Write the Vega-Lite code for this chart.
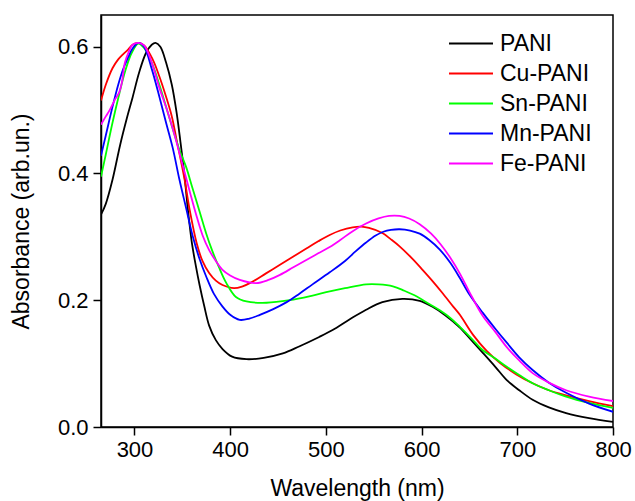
{
  "$schema": "https://vega.github.io/schema/vega-lite/v6.json",
  "width": 512,
  "height": 412,
  "autosize": {"type": "none"},
  "padding": {"left": 101, "top": 15, "right": 22, "bottom": 74},
  "background": "white",
  "config": {
    "font": "Liberation Sans",
    "view": {"stroke": "black", "strokeWidth": 1.5},
    "axis": {
      "grid": false,
      "domainColor": "black",
      "domainWidth": 1.5,
      "tickColor": "black",
      "tickWidth": 1.5,
      "tickSize": 8,
      "labelColor": "black",
      "labelFontSize": 22,
      "labelFont": "Liberation Sans",
      "titleFont": "Liberation Sans",
      "titleFontSize": 23,
      "titleFontWeight": "normal",
      "titleColor": "black"
    }
  },
  "data": {
    "values": [
      {"s":"PANI","x":265,"y":0.335},{"s":"PANI","x":270,"y":0.352},{"s":"PANI","x":277,"y":0.39},{"s":"PANI","x":285,"y":0.445},{"s":"PANI","x":292,"y":0.487},{"s":"PANI","x":298,"y":0.52},{"s":"PANI","x":305,"y":0.56},{"s":"PANI","x":312,"y":0.59},{"s":"PANI","x":318,"y":0.603},{"s":"PANI","x":322,"y":0.606},{"s":"PANI","x":327,"y":0.6},{"s":"PANI","x":333,"y":0.575},{"s":"PANI","x":339,"y":0.54},{"s":"PANI","x":344,"y":0.496},{"s":"PANI","x":348,"y":0.45},{"s":"PANI","x":352,"y":0.4},{"s":"PANI","x":356,"y":0.34},{"s":"PANI","x":360,"y":0.29},{"s":"PANI","x":364,"y":0.255},{"s":"PANI","x":368,"y":0.224},{"s":"PANI","x":373,"y":0.19},{"s":"PANI","x":378,"y":0.16},{"s":"PANI","x":385,"y":0.137},{"s":"PANI","x":392,"y":0.123},{"s":"PANI","x":402,"y":0.111},{"s":"PANI","x":417,"y":0.107},{"s":"PANI","x":435,"y":0.109},{"s":"PANI","x":455,"y":0.116},{"s":"PANI","x":472,"y":0.127},{"s":"PANI","x":493,"y":0.142},{"s":"PANI","x":507,"y":0.153},{"s":"PANI","x":525,"y":0.17},{"s":"PANI","x":542,"y":0.185},{"s":"PANI","x":559,"y":0.197},{"s":"PANI","x":580,"y":0.202},{"s":"PANI","x":598,"y":0.199},{"s":"PANI","x":611,"y":0.19},{"s":"PANI","x":625,"y":0.176},{"s":"PANI","x":640,"y":0.157},{"s":"PANI","x":652,"y":0.137},{"s":"PANI","x":664,"y":0.117},{"s":"PANI","x":677,"y":0.095},{"s":"PANI","x":689,"y":0.074},{"s":"PANI","x":702,"y":0.058},{"s":"PANI","x":716,"y":0.043},{"s":"PANI","x":733,"y":0.031},{"s":"PANI","x":751,"y":0.022},{"s":"PANI","x":775,"y":0.014},{"s":"PANI","x":800,"y":0.008},

      {"s":"Cu-PANI","x":265,"y":0.515},{"s":"Cu-PANI","x":270,"y":0.54},{"s":"Cu-PANI","x":277,"y":0.566},{"s":"Cu-PANI","x":283,"y":0.58},{"s":"Cu-PANI","x":288,"y":0.588},{"s":"Cu-PANI","x":293,"y":0.595},{"s":"Cu-PANI","x":298,"y":0.603},{"s":"Cu-PANI","x":304,"y":0.606},{"s":"Cu-PANI","x":310,"y":0.602},{"s":"Cu-PANI","x":319,"y":0.58},{"s":"Cu-PANI","x":326,"y":0.553},{"s":"Cu-PANI","x":333,"y":0.521},{"s":"Cu-PANI","x":339,"y":0.49},{"s":"Cu-PANI","x":344,"y":0.453},{"s":"Cu-PANI","x":352,"y":0.393},{"s":"Cu-PANI","x":358,"y":0.34},{"s":"Cu-PANI","x":365,"y":0.29},{"s":"Cu-PANI","x":371,"y":0.262},{"s":"Cu-PANI","x":378,"y":0.243},{"s":"Cu-PANI","x":385,"y":0.231},{"s":"Cu-PANI","x":392,"y":0.224},{"s":"Cu-PANI","x":404,"y":0.219},{"s":"Cu-PANI","x":413,"y":0.222},{"s":"Cu-PANI","x":423,"y":0.229},{"s":"Cu-PANI","x":437,"y":0.242},{"s":"Cu-PANI","x":452,"y":0.256},{"s":"Cu-PANI","x":466,"y":0.269},{"s":"Cu-PANI","x":480,"y":0.282},{"s":"Cu-PANI","x":492,"y":0.293},{"s":"Cu-PANI","x":504,"y":0.303},{"s":"Cu-PANI","x":515,"y":0.31},{"s":"Cu-PANI","x":528,"y":0.315},{"s":"Cu-PANI","x":537,"y":0.316},{"s":"Cu-PANI","x":545,"y":0.314},{"s":"Cu-PANI","x":559,"y":0.306},{"s":"Cu-PANI","x":568,"y":0.296},{"s":"Cu-PANI","x":577,"y":0.285},{"s":"Cu-PANI","x":590,"y":0.266},{"s":"Cu-PANI","x":601,"y":0.248},{"s":"Cu-PANI","x":611,"y":0.231},{"s":"Cu-PANI","x":622,"y":0.211},{"s":"Cu-PANI","x":633,"y":0.19},{"s":"Cu-PANI","x":640,"y":0.177},{"s":"Cu-PANI","x":654,"y":0.145},{"s":"Cu-PANI","x":668,"y":0.12},{"s":"Cu-PANI","x":682,"y":0.101},{"s":"Cu-PANI","x":699,"y":0.083},{"s":"Cu-PANI","x":716,"y":0.069},{"s":"Cu-PANI","x":733,"y":0.058},{"s":"Cu-PANI","x":751,"y":0.05},{"s":"Cu-PANI","x":775,"y":0.041},{"s":"Cu-PANI","x":800,"y":0.033},

      {"s":"Sn-PANI","x":265,"y":0.395},{"s":"Sn-PANI","x":270,"y":0.43},{"s":"Sn-PANI","x":277,"y":0.48},{"s":"Sn-PANI","x":284,"y":0.525},{"s":"Sn-PANI","x":290,"y":0.56},{"s":"Sn-PANI","x":297,"y":0.59},{"s":"Sn-PANI","x":304,"y":0.605},{"s":"Sn-PANI","x":310,"y":0.598},{"s":"Sn-PANI","x":318,"y":0.575},{"s":"Sn-PANI","x":326,"y":0.54},{"s":"Sn-PANI","x":334,"y":0.5},{"s":"Sn-PANI","x":340,"y":0.47},{"s":"Sn-PANI","x":347,"y":0.437},{"s":"Sn-PANI","x":354,"y":0.41},{"s":"Sn-PANI","x":360,"y":0.38},{"s":"Sn-PANI","x":368,"y":0.34},{"s":"Sn-PANI","x":375,"y":0.305},{"s":"Sn-PANI","x":381,"y":0.279},{"s":"Sn-PANI","x":388,"y":0.253},{"s":"Sn-PANI","x":396,"y":0.227},{"s":"Sn-PANI","x":406,"y":0.205},{"s":"Sn-PANI","x":417,"y":0.198},{"s":"Sn-PANI","x":438,"y":0.196},{"s":"Sn-PANI","x":462,"y":0.2},{"s":"Sn-PANI","x":485,"y":0.207},{"s":"Sn-PANI","x":504,"y":0.214},{"s":"Sn-PANI","x":520,"y":0.219},{"s":"Sn-PANI","x":542,"y":0.225},{"s":"Sn-PANI","x":555,"y":0.225},{"s":"Sn-PANI","x":570,"y":0.222},{"s":"Sn-PANI","x":582,"y":0.215},{"s":"Sn-PANI","x":595,"y":0.206},{"s":"Sn-PANI","x":608,"y":0.194},{"s":"Sn-PANI","x":619,"y":0.184},{"s":"Sn-PANI","x":630,"y":0.172},{"s":"Sn-PANI","x":640,"y":0.158},{"s":"Sn-PANI","x":652,"y":0.14},{"s":"Sn-PANI","x":664,"y":0.121},{"s":"Sn-PANI","x":677,"y":0.108},{"s":"Sn-PANI","x":689,"y":0.095},{"s":"Sn-PANI","x":702,"y":0.082},{"s":"Sn-PANI","x":716,"y":0.069},{"s":"Sn-PANI","x":733,"y":0.058},{"s":"Sn-PANI","x":751,"y":0.048},{"s":"Sn-PANI","x":775,"y":0.038},{"s":"Sn-PANI","x":800,"y":0.03},

      {"s":"Mn-PANI","x":265,"y":0.428},{"s":"Mn-PANI","x":270,"y":0.46},{"s":"Mn-PANI","x":277,"y":0.505},{"s":"Mn-PANI","x":283,"y":0.54},{"s":"Mn-PANI","x":288,"y":0.564},{"s":"Mn-PANI","x":293,"y":0.582},{"s":"Mn-PANI","x":298,"y":0.597},{"s":"Mn-PANI","x":304,"y":0.606},{"s":"Mn-PANI","x":310,"y":0.6},{"s":"Mn-PANI","x":318,"y":0.565},{"s":"Mn-PANI","x":326,"y":0.521},{"s":"Mn-PANI","x":333,"y":0.48},{"s":"Mn-PANI","x":340,"y":0.44},{"s":"Mn-PANI","x":347,"y":0.39},{"s":"Mn-PANI","x":354,"y":0.345},{"s":"Mn-PANI","x":361,"y":0.3},{"s":"Mn-PANI","x":368,"y":0.265},{"s":"Mn-PANI","x":375,"y":0.237},{"s":"Mn-PANI","x":383,"y":0.21},{"s":"Mn-PANI","x":392,"y":0.19},{"s":"Mn-PANI","x":400,"y":0.177},{"s":"Mn-PANI","x":410,"y":0.169},{"s":"Mn-PANI","x":420,"y":0.171},{"s":"Mn-PANI","x":431,"y":0.177},{"s":"Mn-PANI","x":445,"y":0.186},{"s":"Mn-PANI","x":459,"y":0.197},{"s":"Mn-PANI","x":472,"y":0.21},{"s":"Mn-PANI","x":486,"y":0.225},{"s":"Mn-PANI","x":504,"y":0.244},{"s":"Mn-PANI","x":520,"y":0.262},{"s":"Mn-PANI","x":531,"y":0.277},{"s":"Mn-PANI","x":542,"y":0.291},{"s":"Mn-PANI","x":552,"y":0.302},{"s":"Mn-PANI","x":560,"y":0.308},{"s":"Mn-PANI","x":568,"y":0.311},{"s":"Mn-PANI","x":577,"y":0.312},{"s":"Mn-PANI","x":588,"y":0.31},{"s":"Mn-PANI","x":598,"y":0.305},{"s":"Mn-PANI","x":608,"y":0.295},{"s":"Mn-PANI","x":619,"y":0.28},{"s":"Mn-PANI","x":630,"y":0.259},{"s":"Mn-PANI","x":640,"y":0.235},{"s":"Mn-PANI","x":650,"y":0.209},{"s":"Mn-PANI","x":664,"y":0.18},{"s":"Mn-PANI","x":677,"y":0.155},{"s":"Mn-PANI","x":689,"y":0.133},{"s":"Mn-PANI","x":702,"y":0.11},{"s":"Mn-PANI","x":716,"y":0.09},{"s":"Mn-PANI","x":733,"y":0.07},{"s":"Mn-PANI","x":751,"y":0.054},{"s":"Mn-PANI","x":775,"y":0.037},{"s":"Mn-PANI","x":800,"y":0.024},

      {"s":"Fe-PANI","x":265,"y":0.477},{"s":"Fe-PANI","x":270,"y":0.49},{"s":"Fe-PANI","x":274,"y":0.5},{"s":"Fe-PANI","x":279,"y":0.515},{"s":"Fe-PANI","x":284,"y":0.528},{"s":"Fe-PANI","x":287,"y":0.545},{"s":"Fe-PANI","x":290,"y":0.575},{"s":"Fe-PANI","x":294,"y":0.592},{"s":"Fe-PANI","x":298,"y":0.603},{"s":"Fe-PANI","x":304,"y":0.606},{"s":"Fe-PANI","x":310,"y":0.602},{"s":"Fe-PANI","x":318,"y":0.575},{"s":"Fe-PANI","x":326,"y":0.535},{"s":"Fe-PANI","x":334,"y":0.5},{"s":"Fe-PANI","x":342,"y":0.46},{"s":"Fe-PANI","x":350,"y":0.415},{"s":"Fe-PANI","x":358,"y":0.37},{"s":"Fe-PANI","x":365,"y":0.332},{"s":"Fe-PANI","x":371,"y":0.303},{"s":"Fe-PANI","x":378,"y":0.279},{"s":"Fe-PANI","x":385,"y":0.262},{"s":"Fe-PANI","x":392,"y":0.248},{"s":"Fe-PANI","x":400,"y":0.239},{"s":"Fe-PANI","x":410,"y":0.232},{"s":"Fe-PANI","x":427,"y":0.227},{"s":"Fe-PANI","x":440,"y":0.232},{"s":"Fe-PANI","x":452,"y":0.24},{"s":"Fe-PANI","x":466,"y":0.252},{"s":"Fe-PANI","x":480,"y":0.264},{"s":"Fe-PANI","x":492,"y":0.274},{"s":"Fe-PANI","x":504,"y":0.284},{"s":"Fe-PANI","x":515,"y":0.295},{"s":"Fe-PANI","x":528,"y":0.309},{"s":"Fe-PANI","x":542,"y":0.321},{"s":"Fe-PANI","x":555,"y":0.329},{"s":"Fe-PANI","x":566,"y":0.333},{"s":"Fe-PANI","x":577,"y":0.333},{"s":"Fe-PANI","x":587,"y":0.329},{"s":"Fe-PANI","x":598,"y":0.32},{"s":"Fe-PANI","x":610,"y":0.305},{"s":"Fe-PANI","x":620,"y":0.288},{"s":"Fe-PANI","x":630,"y":0.267},{"s":"Fe-PANI","x":640,"y":0.242},{"s":"Fe-PANI","x":652,"y":0.207},{"s":"Fe-PANI","x":664,"y":0.175},{"s":"Fe-PANI","x":677,"y":0.15},{"s":"Fe-PANI","x":689,"y":0.126},{"s":"Fe-PANI","x":702,"y":0.105},{"s":"Fe-PANI","x":716,"y":0.085},{"s":"Fe-PANI","x":733,"y":0.07},{"s":"Fe-PANI","x":751,"y":0.058},{"s":"Fe-PANI","x":775,"y":0.048},{"s":"Fe-PANI","x":800,"y":0.041}
    ]
  },
  "mark": {"type": "line", "interpolate": "catmull-rom", "strokeWidth": 1.8, "clip": true},
  "encoding": {
    "x": {
      "field": "x", "type": "quantitative",
      "scale": {"domain": [265, 800], "nice": false, "zero": false},
      "axis": {"values": [300, 400, 500, 600, 700, 800], "title": "Wavelength (nm)", "labelPadding": 4, "titlePadding": 17, "labelFlush": false}
    },
    "y": {
      "field": "y", "type": "quantitative",
      "scale": {"domain": [0, 0.65], "nice": false},
      "axis": {"values": [0, 0.2, 0.4, 0.6], "format": ".1f", "title": "Absorbance (arb.un.)", "labelPadding": 5, "titlePadding": 24, "labelFlush": false}
    },
    "color": {
      "field": "s", "type": "nominal",
      "sort": ["PANI", "Cu-PANI", "Sn-PANI", "Mn-PANI", "Fe-PANI"],
      "scale": {"domain": ["PANI", "Cu-PANI", "Sn-PANI", "Mn-PANI", "Fe-PANI"], "range": ["#000000", "#ff0000", "#00ff00", "#0000ff", "#ff00ff"]},
      "legend": {
        "title": null,
        "orient": "none",
        "legendX": 358.5,
        "legendY": 17,
        "symbolType": "M-4.4,0H4.4",
        "symbolSize": 100,
        "symbolStrokeWidth": 2,
        "labelFontSize": 23,
        "labelFont": "Liberation Sans",
        "labelColor": "black",
        "labelOffset": 17.5,
        "rowPadding": 6,
        "padding": 0
      }
    }
  }
}
